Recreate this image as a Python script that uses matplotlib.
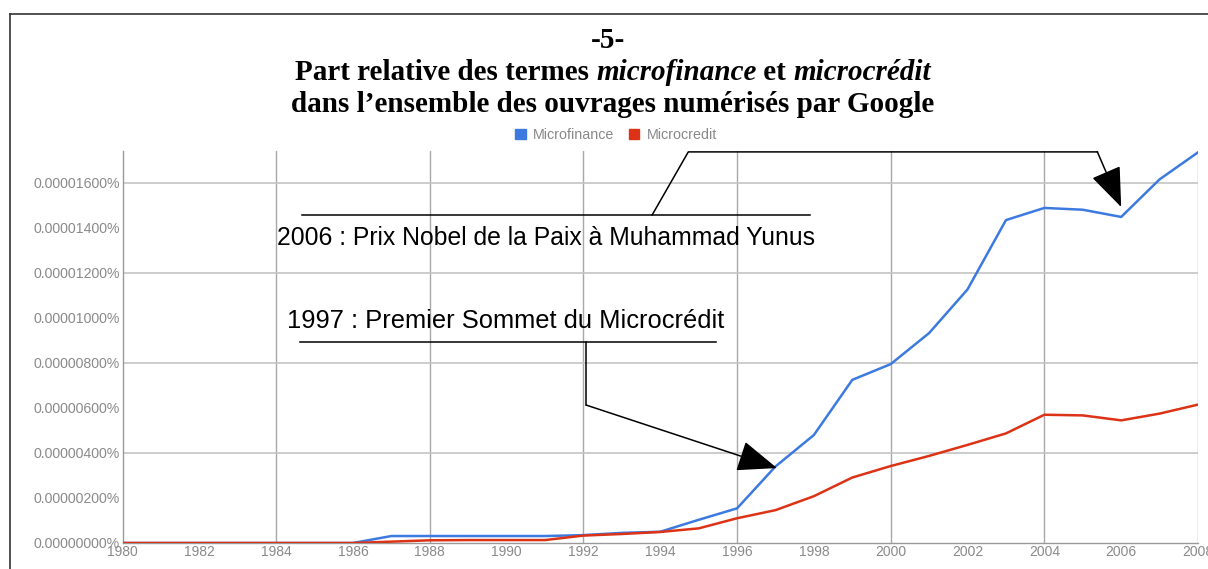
import matplotlib
matplotlib.use('Agg')
import matplotlib.pyplot as plt
from matplotlib.patches import Patch
from matplotlib.lines import Line2D

# données (unité : 1e-8 %)
years = list(range(1980, 2009))
microfinance = [0, 0, 0, 0, 0, 0, 0, 31, 31, 31, 31, 31, 35, 45, 50,
                103, 154, 340, 480, 725, 795, 933, 1127, 1435, 1489,
                1481, 1449, 1616, 1736]
microcredit = [0, 0, 0, 0, 0, 0, 0, 6, 12, 13, 13, 13, 33, 40, 49,
               65, 110, 146, 208, 291, 342, 387, 436, 487, 570,
               567, 545, 575, 615]

xticks = list(range(1980, 2009, 2))
yticks = list(range(0, 1601, 200))

W, H = 1208, 569
fig = plt.figure(figsize=(W / 100, H / 100), dpi=100)
fig.patch.set_facecolor('white')

# cadre (haut et gauche)
fig.add_artist(Line2D([10 / W, 10 / W], [0, 1 - 14 / H], color='#333', lw=1.2))
fig.add_artist(Line2D([10 / W, 1], [1 - 14 / H, 1 - 14 / H], color='#333', lw=1.2))

ax = fig.add_axes([122.5 / W, 26 / H, (1198 - 122.5) / W, (543 - 151) / H])
blue = '#3d7ae0'
red = '#dc3215'
ax.plot(years, microfinance, color=blue, lw=1.8, zorder=3)
ax.plot(years, microcredit, color=red, lw=1.8, zorder=3)

ax.set_xlim(1980, 2008)
ax.set_ylim(0, 1742)
ax.set_xticks(xticks)
ax.set_xticklabels([str(y) for y in xticks])
ax.set_yticks(yticks)
ax.set_yticklabels([f"{v * 1e-8:.8f}%" for v in yticks])

# grille : tous les 4 ans, tous les 0.000004 %
for x in range(1984, 2009, 4):
    ax.axvline(x, color='#a8a8a8', lw=1.0, zorder=1)
for y in range(400, 1601, 400):
    ax.axhline(y, color='#c4c4c4', lw=1.2, zorder=1)

ax.tick_params(which='both', length=0)
ax.tick_params(axis='y', labelsize=10.2, labelcolor='#8a8a8a', pad=2)
ax.tick_params(axis='x', labelsize=10, labelcolor='#8a8a8a', pad=1.5)
for lab in ax.get_xticklabels() + ax.get_yticklabels():
    lab.set_fontfamily('Liberation Sans')
for s in ['top', 'right']:
    ax.spines[s].set_visible(False)
for s in ['left', 'bottom']:
    ax.spines[s].set_color('#999')
    ax.spines[s].set_linewidth(1.0)

# légende
leg = fig.legend(handles=[Patch(color=blue, label='Microfinance'),
                          Patch(color=red, label='Microcredit')],
                 loc='center', bbox_to_anchor=(616 / W, 1 - 135 / H), ncol=2,
                 frameon=False, handlelength=0.75, handleheight=0.75,
                 handletextpad=0.5, columnspacing=1.0,
                 prop={'family': 'Liberation Sans', 'size': 10.3})
for t in leg.get_texts():
    t.set_color('#888')

# annotations
kw = dict(color='black', lw=1.1, clip_on=False, zorder=4)
ax.plot([1984.67, 1997.9], [1458, 1458], **kw)
ax.plot([1993.79, 1994.73, 2005.38], [1458, 1738, 1738], **kw)
ax.annotate('', xy=(2006.0, 1493), xytext=(2005.38, 1738),
            arrowprops=dict(arrowstyle='-|>,head_length=0.9,head_width=0.35',
                            mutation_scale=28, color='black', lw=1.1,
                            shrinkA=0, shrinkB=0), zorder=4)
ax.text(1991.03, 1356, '2006 : Prix Nobel de la Paix à Muhammad Yunus',
        ha='center', va='center', fontsize=17.8, family='Liberation Sans', zorder=4)

ax.text(1989.98, 987, '1997 : Premier Sommet du Microcrédit',
        ha='center', va='center', fontsize=18.4, family='Liberation Sans', zorder=4)
ax.plot([1984.62, 1995.45], [893, 893], **kw)
ax.plot([1992.07, 1992.07], [893, 613], **kw)
ax.annotate('', xy=(1997.04, 333), xytext=(1992.07, 613),
            arrowprops=dict(arrowstyle='-|>,head_length=0.9,head_width=0.35',
                            mutation_scale=28, color='black', lw=1.1,
                            shrinkA=0, shrinkB=0), zorder=4)

# titre (morceaux gras / gras italique)
fig.canvas.draw()
renderer = fig.canvas.get_renderer()


def title_line(parts, yc, xc=613, size=21):
    arts = []
    for txt, style in parts:
        t = fig.text(0, 1 - yc / H, txt, fontsize=size, family='Liberation Serif',
                     weight='bold', style=style, ha='left', va='center')
        arts.append(t)
    widths = [a.get_window_extent(renderer).width for a in arts]
    x = xc - sum(widths) / 2
    for a, w in zip(arts, widths):
        a.set_x(x / W)
        x += w


title_line([('-5-', 'normal')], 41, xc=608)
title_line([('Part relative des termes ', 'normal'), ('microfinance', 'italic'),
            (' et ', 'normal'), ('microcrédit', 'italic')], 73)
title_line([('dans l\u2019ensemble des ouvrages numérisés par Google', 'normal')], 105)

fig.savefig('out.png', dpi=100)
